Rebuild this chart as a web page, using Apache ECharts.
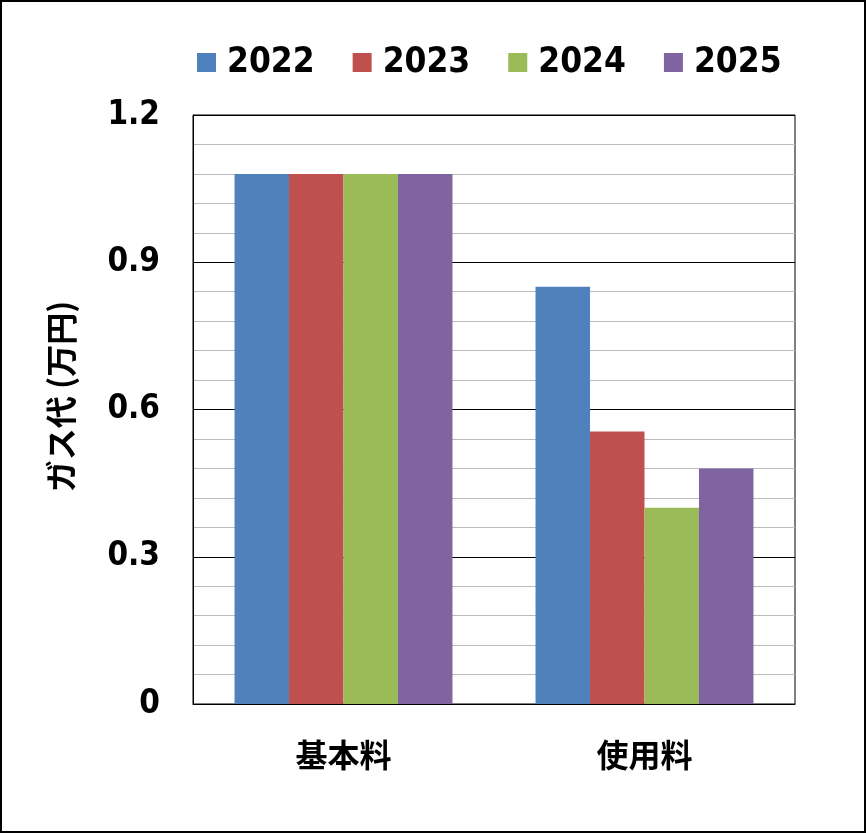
<!DOCTYPE html>
<html>
<head>
<meta charset="utf-8">
<script src="https://cdn.jsdelivr.net/npm/echarts@6/dist/echarts.min.js"></script>
<style>
html,body{margin:0;padding:0;background:#fff;}
#wrap{position:relative;width:866px;height:833px;}
#c{position:absolute;left:0;top:0;width:866px;height:833px;}
#frame{position:absolute;left:0;top:0;width:866px;height:833px;box-sizing:border-box;border:2px solid #000;pointer-events:none;}
</style>
</head>
<body>
<div id="wrap"><div id="c"></div><div id="frame"></div></div>
<script>
const categories = ['基本料', '使用料'];
const seriesNames = ['2022', '2023', '2024', '2025'];
const v2022 = [1.08, 0.85];
const v2023 = [1.08, 0.555];
const v2024 = [1.08, 0.40];
const v2025 = [1.08, 0.48];
const yTicks = [0, 0.3, 0.6, 0.9, 1.2];
const colors = ['#4F81BD', '#C0504D', '#9BBB59', '#8064A2'];
const values = [v2022, v2023, v2024, v2025];

const chart = echarts.init(document.getElementById('c'));
const font = '"DejaVu Sans Condensed", "DejaVu Sans", sans-serif';
const cjk = '"Noto Sans CJK JP", sans-serif';
chart.setOption({
  animation: false,
  color: colors,
  legend: {
    left: 192, top: 40,
    itemWidth: 19, itemHeight: 19, itemGap: 38,
    icon: 'rect',
    textStyle: {fontFamily: font, fontWeight: 'bold', fontSize: 35, color: '#000', padding: [0, 0, 0, 6]},
    data: seriesNames
  },
  grid: {left: 193, right: 71, top: 115, bottom: 129, show: true, borderColor: '#000', borderWidth: 1},
  xAxis: {
    type: 'category', data: categories,
    axisLine: {lineStyle: {color: '#000'}},
    axisTick: {show: false},
    axisLabel: {fontFamily: cjk, fontWeight: 'bold', fontSize: 32, color: '#000', margin: 35}
  },
  yAxis: {
    type: 'value', min: 0, max: 1.2, interval: 0.3,
    name: 'ガス代 (万円)', nameLocation: 'middle', nameGap: 116, nameRotate: 90,
    nameTextStyle: {fontFamily: cjk, fontWeight: 'bold', fontSize: 32, color: '#000', padding: [0, 0, 0, 26]},
    axisLine: {show: true, lineStyle: {color: '#000'}},
    axisTick: {show: false},
    axisLabel: {fontFamily: font, fontWeight: 'bold', fontSize: 33, color: '#000', margin: 33,
      padding: [4, 0, 0, 0],
      formatter: v => yTicks.includes(+v.toFixed(2)) ? (v === 0 ? '0' : v.toFixed(1)) : ''},
    splitLine: {lineStyle: {color: '#000', width: 1}},
    minorTick: {show: false, splitNumber: 5},
    minorSplitLine: {show: true, lineStyle: {color: '#BBBBBB', width: 1}}
  },
  series: values.map((d, i) => ({
    name: seriesNames[i], type: 'bar', data: d,
    barGap: '0%', barCategoryGap: '27.6%'
  }))
});
</script>
</body>
</html>
